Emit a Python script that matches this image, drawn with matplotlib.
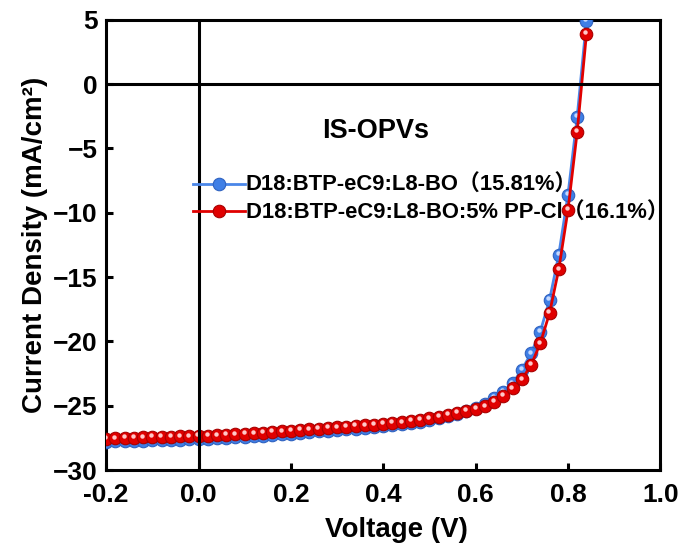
import matplotlib
matplotlib.use('Agg')
import matplotlib.pyplot as plt
from matplotlib.transforms import offset_copy

plt.rcParams['font.family'] = ['Liberation Sans', 'Noto Sans CJK SC', 'DejaVu Sans']
plt.rcParams['font.weight'] = 'bold'

# J-V data
voltage = [-0.20, -0.18, -0.16, -0.14, -0.12, -0.10, -0.08, -0.06, -0.04, -0.02,
           0.00, 0.02, 0.04, 0.06, 0.08, 0.10, 0.12, 0.14, 0.16, 0.18,
           0.20, 0.22, 0.24, 0.26, 0.28, 0.30, 0.32, 0.34, 0.36, 0.38,
           0.40, 0.42, 0.44, 0.46, 0.48, 0.50, 0.52, 0.54, 0.56, 0.58,
           0.60, 0.62, 0.64, 0.66, 0.68, 0.70, 0.72, 0.74, 0.76, 0.78,
           0.80, 0.82, 0.84]
j_ref = [-27.78, -27.76, -27.74, -27.72, -27.70, -27.68, -27.66, -27.64, -27.62, -27.60,
         -27.58, -27.55, -27.52, -27.49, -27.45, -27.41, -27.36, -27.31, -27.26, -27.21,
         -27.15, -27.09, -27.03, -26.97, -26.92, -26.87, -26.82, -26.77, -26.71, -26.66,
         -26.60, -26.52, -26.44, -26.35, -26.24, -26.12, -25.98, -25.82, -25.64, -25.44,
         -25.18, -24.82, -24.40, -23.90, -23.26, -22.20, -20.93, -19.24, -16.78, -13.28,
         -8.60, -2.52, 4.90]
j_ppcl = [-27.55, -27.53, -27.50, -27.48, -27.46, -27.44, -27.42, -27.40, -27.38, -27.37,
          -27.35, -27.32, -27.29, -27.26, -27.22, -27.18, -27.14, -27.09, -27.04, -26.99,
          -26.93, -26.88, -26.83, -26.78, -26.73, -26.68, -26.63, -26.57, -26.52, -26.47,
          -26.42, -26.35, -26.28, -26.19, -26.09, -25.98, -25.85, -25.72, -25.58, -25.42,
          -25.25, -25.05, -24.70, -24.25, -23.65, -22.95, -21.85, -20.15, -17.80, -14.40,
          -9.80, -3.70, 3.90]

labels = ['D18:BTP-eC9:L8-BO（15.81%）', 'D18:BTP-eC9:L8-BO:5% PP-Cl（16.1%）']

fig = plt.figure(figsize=(6.85, 5.48), dpi=100)
ax = fig.add_axes([0.155, 0.142, 0.809, 0.822])

# highlight dots slightly up-left of each marker centre -> glossy sphere look
hl = offset_copy(ax.transData, fig=fig, x=-0.8, y=1.3, units='points')

lb, = ax.plot(voltage, j_ref, color='#4a86e8', lw=2.0, marker='o', ms=9,
              mfc='#3f7fe6', mec='#2f62c0', mew=0.8, label=labels[0], zorder=3)
ax.plot(voltage, j_ref, ls='none', marker='o', ms=3.2, mfc='#c4d9ff', mec='none',
        transform=hl, zorder=3.1)
lr, = ax.plot(voltage, j_ppcl, color='#e00000', lw=2.0, marker='o', ms=9,
              mfc='#e00000', mec='#a80000', mew=0.8, label=labels[1], zorder=4)
ax.plot(voltage, j_ppcl, ls='none', marker='o', ms=3.2, mfc='#ffc8c8', mec='none',
        transform=hl, zorder=4.1)

ax.axhline(0, color='k', lw=2.2, zorder=5)
ax.axvline(0, color='k', lw=2.2, zorder=5)

ax.set_xlim(-0.2, 1.0)
ax.set_ylim(-30, 5)
ax.set_xticks([-0.2, 0.0, 0.2, 0.4, 0.6, 0.8, 1.0])
ax.set_yticks([-30, -25, -20, -15, -10, -5, 0, 5])
ax.xaxis.set_major_formatter(matplotlib.ticker.FormatStrFormatter('%.1f'))
for s in ax.spines.values():
    s.set_linewidth(2.2)
ax.tick_params(direction='in', length=5, width=2.2, labelsize=19)
ax.tick_params(axis='x', pad=9)
ax.tick_params(axis='y', pad=6)

ax.set_xlabel('Voltage (V)', fontsize=20, fontweight='bold')
ax.xaxis.set_label_coords(0.523, -0.105)
ax.set_ylabel('Current Density (mA/cm²)', fontsize=20, fontweight='bold', labelpad=4)

ax.text(0.39, 0.753, 'IS-OPVs', transform=ax.transAxes, fontsize=19.5,
        fontweight='bold', va='center', ha='left')

leg = ax.legend(handles=[lb, lr], loc='upper left', bbox_to_anchor=(0.157, 0.655),
                frameon=False, fontsize=15.8, handlelength=2.35, handletextpad=0.05,
                labelspacing=0.28, borderpad=0, borderaxespad=0)
for t in leg.get_texts():
    t.set_fontweight('bold')

fig.savefig('out.png', dpi=100)
